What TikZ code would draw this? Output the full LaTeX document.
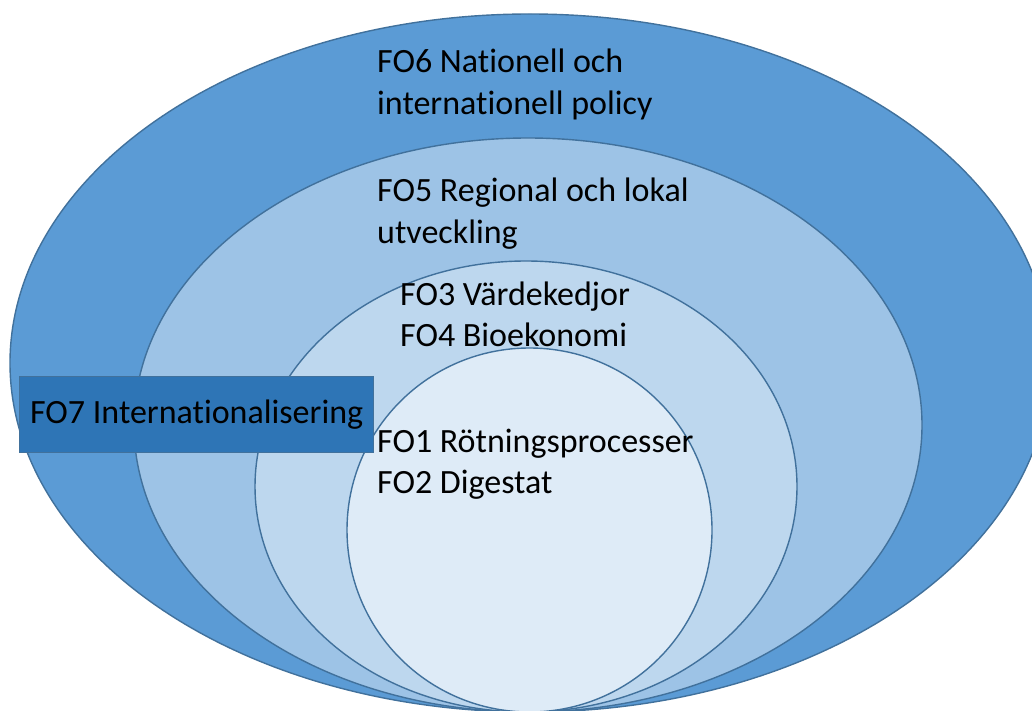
\documentclass[tikz,border=0pt]{standalone}
\usepackage{fontspec}
\setmainfont{Carlito}[Ligatures=NoCommon]
\usetikzlibrary{shapes.geometric}

\definecolor{ringsix}{HTML}{5B9BD5}
\definecolor{ringfive}{HTML}{9DC3E6}
\definecolor{ringthree}{HTML}{BDD7EE}
\definecolor{ringone}{HTML}{DEEBF7}
\definecolor{ringline}{HTML}{41719C}
\definecolor{boxfill}{HTML}{2E75B6}

\begin{document}
\begin{tikzpicture}[x=1pt,y=-1pt,
    ring/.style={ellipse, draw=ringline, line width=1.4pt, inner sep=0pt},
    fotext/.style={anchor=base west, inner sep=0pt, align=left,
      font=\fontsize{34}{41.5}\selectfont},
    fobox/.style={draw=ringline, fill=boxfill, line width=1.4pt, anchor=north west,
      minimum width=354pt, minimum height=76pt, inner xsep=5pt,
      font=\fontsize{34}{41.5}\selectfont}]
  \useasboundingbox (0,0) rectangle (1032,711);
  \clip (0,0) rectangle (1032,711);
  % nested rings, outermost first
  \node[ring, fill=ringsix,   minimum width=1040pt, minimum height=698pt] (fo6ring) at (530,363) {};
  \node[ring, fill=ringfive,  minimum width=788pt,  minimum height=574pt] (fo5ring) at (528,425) {};
  \node[ring, fill=ringthree, minimum width=542pt,  minimum height=451pt] (fo3ring) at (526,486.5) {};
  \node[ring, fill=ringone,   minimum width=365pt,  minimum height=364pt] (fo1ring) at (529.5,530) {};
  % texts (base = last line)
  \node[fotext] (fo6) at (377,114.5) {FO6 Nationell och\\internationell policy};
  \node[fotext] (fo5) at (377,243.5) {FO5 Regional och lokal\\utveckling};
  \node[fotext] (fo3) at (400,346.5) {FO3 Värdekedjor\\FO4 Bioekonomi};
  \node[fotext] (fo1) at (377,493.5) {FO1 Rötningsprocesser\\FO2 Digestat};
  \node[fobox, align=left] (fo7) at (19,376) {FO7 Internationalisering};
\end{tikzpicture}
\end{document}
